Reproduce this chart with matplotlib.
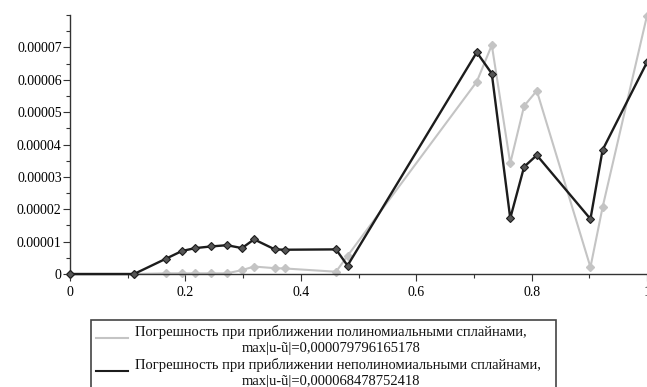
import matplotlib
matplotlib.use("Agg")
import matplotlib.pyplot as plt
from matplotlib.lines import Line2D
from matplotlib.patches import Rectangle
from matplotlib.ticker import MultipleLocator, FixedFormatter, FixedLocator

# Grid nodes and approximation errors
x_nodes = [0.0, 0.111, 0.166, 0.194, 0.217, 0.244, 0.272, 0.298, 0.319, 0.355,
           0.373, 0.461, 0.481, 0.705, 0.731, 0.763, 0.787, 0.809, 0.902, 0.923, 1.0]

err_poly = [0.0, 0.0, 0.02e-5, 0.02e-5, 0.02e-5, 0.02e-5, 0.02e-5, 0.12e-5, 0.23e-5,
            0.18e-5, 0.17e-5, 0.07e-5, 0.56e-5, 5.94e-5, 7.07e-5, 3.42e-5, 5.19e-5,
            5.66e-5, 0.21e-5, 2.06e-5, 7.9796165178e-5]

err_nonpoly = [0.0, 0.0, 0.47e-5, 0.71e-5, 0.80e-5, 0.85e-5, 0.89e-5, 0.80e-5,
               1.07e-5, 0.76e-5, 0.75e-5, 0.76e-5, 0.26e-5, 6.8478752418e-5,
               6.19e-5, 1.72e-5, 3.31e-5, 3.67e-5, 1.70e-5, 3.83e-5, 6.54e-5]

x_ticks = [0.0, 0.2, 0.4, 0.6, 0.8, 1.0]
x_tick_labels = ["0", "0.2", "0.4", "0.6", "0.8", "1"]
y_ticks = [0, 1e-5, 2e-5, 3e-5, 4e-5, 5e-5, 6e-5, 7e-5]
y_tick_labels = ["0", "0.00001", "0.00002", "0.00003", "0.00004",
                 "0.00005", "0.00006", "0.00007"]

legend_titles = [
    "Погрешность при приближении полиномиальными сплайнами,",
    "Погрешность при приближении неполиномиальными сплайнами,",
]
legend_max = [
    "max|u-ũ|=0,000079796165178",
    "max|u-ũ|=0,000068478752418",
]

GREY = "#c4c4c4"
BLACK = "#1c1c1c"
SERIF = ["Liberation Serif", "DejaVu Serif"]

W, H = 647, 387
fig = plt.figure(figsize=(W / 100, H / 100), dpi=100)
fig.patch.set_facecolor("white")

# axes: x=0 at 70px, x=1 at 647px; y=0 at 274px, y=8e-5 at 15px (from top)
ax = fig.add_axes([70 / W, (H - 274) / H, 577 / W, (274 - 15) / H])
ax.set_xlim(0, 1)
ax.set_ylim(0, 8e-5)

ax.plot(x_nodes, err_poly, color=GREY, lw=1.5, marker="D", ms=4,
        mfc=GREY, mec=GREY, clip_on=False, zorder=2)
ax.plot(x_nodes, err_nonpoly, color=BLACK, lw=1.7, marker="D", ms=4,
        mfc="#555555", mec=BLACK, mew=0.8, clip_on=False, zorder=3)

for side in ("top", "right"):
    ax.spines[side].set_visible(False)
for side in ("left", "bottom"):
    ax.spines[side].set_color("#333333")
    ax.spines[side].set_linewidth(1.0)

ax.xaxis.set_major_locator(FixedLocator(x_ticks))
ax.xaxis.set_major_formatter(FixedFormatter(x_tick_labels))
ax.xaxis.set_minor_locator(MultipleLocator(0.1))
ax.yaxis.set_major_locator(FixedLocator(y_ticks))
ax.yaxis.set_major_formatter(FixedFormatter(y_tick_labels))
ax.yaxis.set_minor_locator(MultipleLocator(0.5e-5))

ax.tick_params(axis="both", which="major", direction="out", length=5,
               width=0.8, color="#333333", labelsize=10)
ax.tick_params(axis="both", which="minor", direction="out", length=3,
               width=0.8, color="#333333")
ax.tick_params(axis="x", pad=4)
ax.tick_params(axis="y", pad=1)
for lab in ax.get_xticklabels() + ax.get_yticklabels():
    lab.set_family(SERIF)

# legend box below the plot
def px(x, y):
    return x / W, 1 - y / H

x0, y0 = px(91, 320)
x1, _ = px(556, 0)
fig.patches.append(Rectangle((x0, -0.05), x1 - x0, y0 + 0.05,
                             transform=fig.transFigure, fill=False,
                             edgecolor="#444444", lw=1.2))

entries = zip(legend_titles, legend_max, (GREY, BLACK), (332, 365))
for title, maxtxt, col, yy in entries:
    tx, ty = px(135, yy)
    fig.text(tx, ty, title, ha="left", va="center", fontsize=10.5,
             family=SERIF, color="#111111")
    mx, my = px(331, yy + 16.5)
    fig.text(mx, my, maxtxt, ha="center", va="center", fontsize=10.5,
             family=SERIF, color="#111111")
    ax_a, ay = px(96, yy + 5.5)
    bx, _ = px(128, yy + 5.5)
    fig.add_artist(Line2D([ax_a, bx], [ay, ay], transform=fig.transFigure,
                          color=col, lw=1.5))

fig.savefig("out.png", dpi=100, facecolor="white")
